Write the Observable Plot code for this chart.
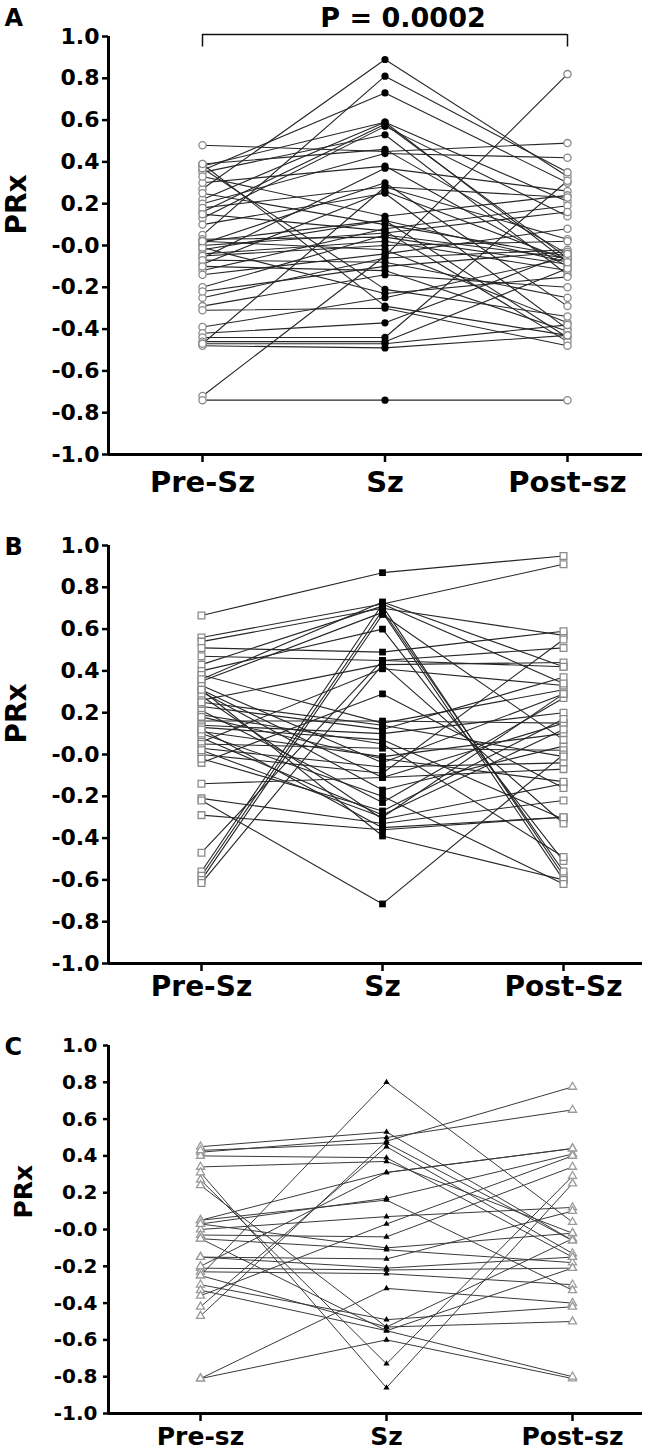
<!DOCTYPE html>
<html><head><meta charset="utf-8">
<script src="https://cdn.jsdelivr.net/npm/d3@7"></script>
<script src="https://cdn.jsdelivr.net/npm/@observablehq/plot@0.6"></script>
<style>
body{margin:0;background:#fff;}
#wrap{position:relative;width:645px;height:1455px;overflow:hidden;}
#wrap > svg{position:absolute;left:0;overflow:visible;background:transparent;}
</style></head><body><div id="wrap"></div>
<script>
// Category labels (one set per panel, as printed)
const categoriesA = ["Pre-Sz", "Sz", "Post-sz"];
const categoriesB = ["Pre-Sz", "Sz", "Post-Sz"];
const categoriesC = ["Pre-sz", "Sz", "Post-sz"];
const stages = [0, 1, 2];
const yTicks = [1.0, 0.8, 0.6, 0.4, 0.2, 0.0, -0.2, -0.4, -0.6, -0.8, -1.0];
const yTickLabels = ["1.0", "0.8", "0.6", "0.4", "0.2", "-0.0", "-0.2", "-0.4", "-0.6", "-0.8", "-1.0"];
const panelLetters = ["A", "B", "C"];
const yLabel = "PRx";
const pLabelA = "P = 0.0002";

// Panel A: circles
const preA = [0.27,0.05,0.36,0.38,0.16,0.22,0.13,0.35,0.48,0.39,0.20,0.30,-0.06,0.01,0.18,-0.09,0.10,0.33,-0.02,0.25,-0.12,0.15,0.00,-0.20,0.03,-0.04,-0.05,-0.72,0.02,-0.14,-0.25,-0.07,-0.22,-0.10,-0.29,0.37,-0.01,-0.39,0.39,-0.31,-0.42,-0.44,-0.46,-0.47,-0.48,-0.74,-0.47,0.02];
const szA = [0.89,0.81,0.73,0.59,0.58,0.59,0.57,0.53,0.45,0.46,0.44,0.38,0.37,0.30,0.28,0.26,0.25,0.14,0.12,0.10,0.08,0.07,0.06,0.05,0.04,0.02,0.00,-0.05,-0.02,-0.04,-0.06,-0.08,-0.10,-0.12,-0.14,-0.21,-0.23,-0.25,-0.29,-0.30,-0.37,-0.44,-0.46,-0.47,-0.49,-0.74,0.28,0.12];
const postA = [0.33,0.35,0.30,0.21,-0.06,-0.08,0.14,-0.14,0.49,-0.04,0.42,-0.10,0.26,-0.29,0.03,-0.07,-0.40,0.24,-0.44,-0.05,0.19,-0.46,0.16,-0.06,-0.09,-0.12,0.02,0.82,-0.37,0.08,-0.02,-0.25,-0.03,-0.41,-0.20,-0.34,-0.15,-0.06,-0.43,-0.48,-0.04,0.31,-0.11,-0.38,-0.43,-0.74,0.23,-0.08];

// Panel B: squares
const preB = [0.665,0.56,0.54,0.51,0.47,0.43,0.40,0.38,0.35,0.33,0.31,0.30,0.28,0.26,0.23,0.21,0.19,0.16,0.14,0.13,0.11,0.08,0.06,0.05,0.03,0.00,-0.04,-0.14,-0.21,-0.22,-0.29,-0.47,-0.56,-0.58,-0.60,-0.615,0.31,0.10,0.02,0.18,0.36,-0.02,0.25,0.12];
const szB = [0.87,0.72,0.70,0.49,0.45,0.71,0.60,0.15,0.68,-0.04,-0.11,-0.17,-0.31,0.43,0.12,-0.23,0.05,0.16,0.10,0.07,-0.01,-0.29,0.41,0.03,-0.06,-0.09,0.29,-0.11,-0.33,-0.715,-0.36,0.45,0.72,0.69,0.67,0.43,-0.39,-0.20,-0.30,-0.02,0.73,-0.27,0.14,-0.35];
const postB = [0.95,0.91,0.57,0.59,0.42,-0.58,-0.51,0.31,-0.60,0.29,0.15,0.04,-0.14,0.44,0.37,0.27,-0.49,0.15,0.20,-0.31,0.10,0.12,0.33,0.02,-0.04,0.55,-0.16,-0.07,-0.22,0.00,-0.30,0.51,0.34,-0.56,0.07,-0.33,-0.60,-0.62,0.29,-0.13,0.42,0.17,-0.01,-0.30];

// Panel C: triangles
const preC = [-0.25,0.45,0.42,-0.47,-0.42,0.40,0.34,0.05,0.31,0.27,0.24,0.03,0.00,-0.03,-0.05,-0.15,-0.21,-0.23,-0.81,-0.81,-0.30,-0.33,-0.36,-0.25,0.05,-0.15,0.43,-0.20,0.03,-0.05];
const szC = [0.80,0.53,0.50,0.48,0.45,0.39,0.37,0.31,-0.86,-0.73,-0.53,0.17,0.07,-0.04,-0.11,-0.16,-0.22,-0.24,-0.60,-0.32,-0.49,-0.55,0.03,-0.53,0.16,-0.21,0.47,0.31,-0.10,-0.55];
const postC = [0.04,-0.06,0.65,0.775,-0.13,-0.15,-0.02,0.44,0.25,0.29,-0.05,0.41,0.12,0.34,-0.18,0.10,-0.21,-0.30,-0.81,-0.40,-0.42,-0.80,0.40,-0.50,-0.33,-0.15,-0.06,0.44,-0.02,-0.21];

const wrap = document.getElementById("wrap");
const FONT = "DejaVu Sans";

function panel(cfg) {
  const rows = [];
  cfg.pre.forEach((v, i) => {
    rows.push({id: i, stage: 0, value: v});
    rows.push({id: i, stage: 1, value: cfg.sz[i]});
    rows.push({id: i, stage: 2, value: cfg.post[i]});
  });
  const axisLeft = 108, axisRight = 642;
  const u = (cfg.xPost - cfg.xPre) / 2;
  const xDomain = [(axisLeft - cfg.xPre) / u, 2 + (axisRight - cfg.xPost) / u];
  const marks = [
    Plot.line(rows, {x: "stage", y: "value", z: "id", stroke: cfg.lineColor, strokeWidth: cfg.lineWidth}),
    Plot.dot(rows.filter(d => d.stage !== 1), {x: "stage", y: "value", symbol: cfg.symbol, r: cfg.rOut, fill: "white", stroke: cfg.gray, strokeWidth: 1.3}),
    Plot.dot(rows.filter(d => d.stage === 1), {x: "stage", y: "value", symbol: cfg.symbol, r: cfg.rIn, fill: "black", stroke: "none"}),
    Plot.ruleY([-1], {stroke: "black", strokeWidth: 3, dx: 0}),
    Plot.ruleX([xDomain[0]], {stroke: "black", strokeWidth: 3}),
    Plot.axisY(yTicks, {tickFormat: d => yTickLabels[yTicks.indexOf(d)], tickSize: cfg.yTickSize, tickPadding: cfg.yTickPad, strokeWidth: 2.5, fontSize: cfg.yFont, fontWeight: "bold", label: null}),
    Plot.axisX(stages, {tickFormat: i => cfg.cats[i], tickSize: 8, tickPadding: cfg.xPad, strokeWidth: 2.5, fontSize: cfg.xFont, fontWeight: "bold", label: null}),
    Plot.text([cfg.letter], {frameAnchor: "top-left", dx: 4 - axisLeft, dy: cfg.letterDy, textAnchor: "start", lineAnchor: "top", fontSize: 24, fontWeight: "bold"}),
    Plot.text([yLabel], {frameAnchor: "left", rotate: -90, dx: cfg.labelX - axisLeft, dy: -11, fontSize: cfg.labelFont, fontWeight: "bold"})
  ];
  if (cfg.pLabel) {
    marks.push(
      Plot.ruleY([1], {x1: 0, x2: 2, dy: -2, stroke: "#111", strokeWidth: 1.5}),
      Plot.ruleX([0, 2], {y1: 1, y2: 0.94, dy: -2, stroke: "#111", strokeWidth: 1.5}),
      Plot.text([cfg.pLabel], {x: () => 1, y: () => 1, dx: 18, dy: -18, fontSize: 27, fontWeight: "bold"})
    );
  }
  const svg = Plot.plot({
    width: 645, height: cfg.height,
    marginTop: cfg.mTop, marginBottom: cfg.height - cfg.mTop - cfg.plotH,
    marginLeft: axisLeft, marginRight: 645 - axisRight,
    x: {domain: xDomain},
    y: {domain: [-1, 1]},
    style: {fontFamily: FONT, background: "transparent", color: "black"},
    marks
  });
  svg.style.top = cfg.top + "px";
  wrap.appendChild(svg);
}

panel({pre: preA, sz: szA, post: postA, cats: categoriesA, letter: panelLetters[0], pLabel: pLabelA,
  top: 0, height: 505, mTop: 36, plotH: 418, xPre: 202, xPost: 567,
  symbol: "circle", rOut: 3.6, rIn: 3.6, gray: "#8a8a8a", lineColor: "#262626", lineWidth: 1.1,
  yTickSize: 6, yTickPad: 3, yFont: 22, xFont: 29, xPad: 9, letterDy: -28, labelX: 17, labelFont: 28});

panel({pre: preB, sz: szB, post: postB, cats: categoriesB, letter: panelLetters[1],
  top: 505, height: 500, mTop: 40, plotH: 418, xPre: 201, xPost: 563,
  symbol: "square", rOut: 3.8, rIn: 3.8, gray: "#8a8a8a", lineColor: "#262626", lineWidth: 1.1,
  yTickSize: 6, yTickPad: 3, yFont: 22, xFont: 28, xPad: 5, letterDy: -8, labelX: 17, labelFont: 28});

panel({pre: preC, sz: szC, post: postC, cats: categoriesC, letter: panelLetters[2],
  top: 1005, height: 450, mTop: 40, plotH: 368, xPre: 200, xPost: 572,
  symbol: "triangle", rOut: 3.0, rIn: 2.3, gray: "#9a9a9a", lineColor: "#3a3a3a", lineWidth: 1,
  yTickSize: 5, yTickPad: 6, yFont: 20, xFont: 25, xPad: 6, letterDy: -8, labelX: 23, labelFont: 25});
</script>
</body></html>
